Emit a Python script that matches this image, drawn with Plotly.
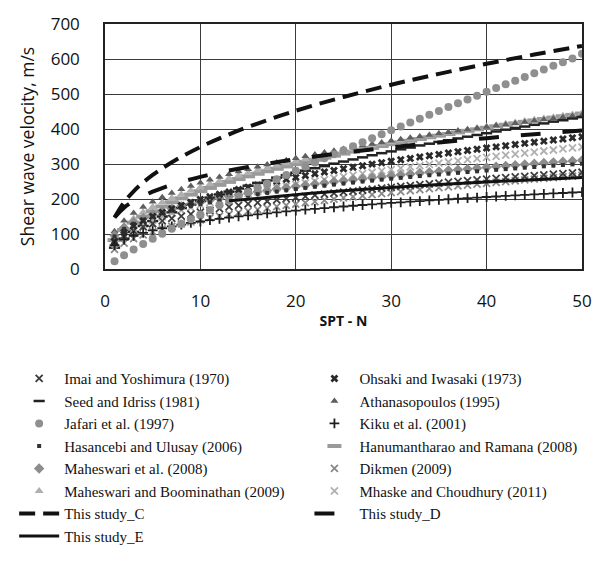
import plotly.graph_objects as go

# ---- data ----
N = list(range(1, 51))

imai = [76, 95.5, 109.2, 120.1, 129.3, 137.3, 144.4, 151.0, 156.9, 162.5, 167.7, 172.6, 177.2, 181.6, 185.8, 189.8, 193.6, 197.3, 200.8, 204.3,
        207.6, 210.8, 213.9, 216.9, 219.8, 222.7, 225.5, 228.2, 230.9, 233.5, 236.0, 238.5, 240.9, 243.3, 245.6, 248.0, 250.2, 252.4, 254.6, 256.7,
        258.8, 260.9, 262.9, 264.9, 266.9, 268.8, 270.8, 272.7, 274.5, 276.4]
ohsaki = [79, 104.2, 122.6, 137.5, 150.4, 161.8, 172.1, 181.5, 190.2, 198.4, 206.2, 213.5, 220.4, 227.0, 233.4, 239.5, 245.4, 251.0, 256.5, 261.8,
          267.0, 272.0, 276.9, 281.6, 286.3, 290.8, 295.2, 299.6, 303.8, 308.0, 312.0, 316.0, 319.9, 323.8, 327.5, 331.2, 334.9, 338.5, 342.0, 345.5,
          348.9, 352.3, 355.6, 358.9, 362.2, 365.3, 368.5, 371.6, 374.7, 377.8]
seed = [61, 87, 106, 123, 137, 150, 162, 174, 184, 194, 204, 213, 221, 230, 238, 246, 253, 261, 268, 275,
        281, 288, 294, 301, 307, 313, 319, 325, 331, 336, 342, 347, 353, 358, 363, 368, 373, 378, 383, 388,
        393, 398, 403, 407, 412, 416, 421, 425, 430, 434]
athanasopoulos = [107.6, 138.1, 159.8, 177.2, 192.1, 205.1, 216.8, 227.5, 237.3, 246.5, 255.1, 263.2, 270.9, 278.3, 285.2, 291.9, 298.4, 304.6, 310.6, 316.4,
                  322.0, 327.4, 332.7, 337.8, 342.8, 347.7, 352.5, 357.1, 361.6, 366.1, 370.4, 374.7, 378.8, 382.9, 387.0, 390.9, 394.8, 398.6, 402.3, 406.0,
                  409.7, 413.2, 416.7, 420.2, 423.6, 427.0, 430.3, 433.6, 436.8, 440.0]
jafari = [22, 39.6, 56.0, 71.5, 86.4, 100.9, 115.0, 128.8, 142.4, 155.7, 168.9, 181.9, 194.7, 207.3, 219.8, 232.2, 244.5, 256.7, 268.8, 280.8,
          292.6, 304.5, 316.2, 327.8, 339.4, 350.9, 362.3, 373.7, 385.0, 396.2, 407.4, 418.5, 429.6, 440.7, 451.6, 462.6, 473.6, 484.5, 495.3, 506.1,
          516.8, 527.5, 538.2, 548.8, 559.3, 569.9, 580.4, 590.9, 601.3, 615.0]
kiku = [68, 83.7, 94.5, 103.1, 110.2, 116.4, 121.9, 126.9, 131.5, 135.7, 139.6, 143.3, 146.8, 150.1, 153.2, 156.2, 159.1, 161.8, 164.5, 167.0,
        169.5, 171.9, 174.2, 176.4, 178.6, 180.7, 182.8, 184.8, 186.7, 188.7, 190.5, 192.3, 194.1, 195.9, 197.6, 199.3, 200.9, 202.5, 204.1, 205.7,
        207.2, 208.7, 210.2, 211.6, 213.0, 214.5, 215.8, 217.2, 218.5, 219.9]
hasancebi = [93, 114.5, 129.3, 141.0, 150.7, 159.2, 166.7, 173.5, 179.8, 185.6, 190.9, 196.0, 200.8, 205.3, 209.6, 213.7, 217.6, 221.3, 225.0, 228.4,
             231.8, 235.1, 238.2, 241.3, 244.3, 247.1, 250.0, 252.7, 255.4, 258.0, 260.5, 263.0, 265.5, 267.9, 270.2, 272.5, 274.8, 277.0, 279.1, 281.3,
             283.4, 285.4, 287.4, 289.4, 291.4, 293.3, 295.2, 297.1, 298.9, 300.7]
hanumantharao = [82.6, 111.3, 132.5, 149.9, 165.0, 178.5, 190.7, 202.0, 212.5, 222.3, 231.6, 240.4, 248.9, 256.9, 264.7, 272.1, 279.3, 286.3, 293.0, 299.5,
                 305.9, 312.0, 318.1, 323.9, 329.7, 335.3, 340.8, 346.1, 351.4, 356.6, 361.6, 366.6, 371.5, 376.3, 381.0, 385.6, 390.2, 394.7, 399.1, 403.5,
                 407.8, 412.1, 416.2, 420.4, 424.5, 428.5, 432.5, 436.4, 440.3, 444.2]
maheswari08 = [96, 118.2, 133.5, 145.5, 155.6, 164.3, 172.1, 179.1, 185.6, 191.5, 197.1, 202.3, 207.2, 211.9, 216.3, 220.6, 224.6, 228.5, 232.2, 235.8,
               239.3, 242.6, 245.9, 249.1, 252.2, 255.1, 258.0, 260.9, 263.6, 266.3, 269.0, 271.5, 274.1, 276.5, 278.9, 281.3, 283.6, 285.9, 288.1, 290.3,
               292.5, 294.6, 296.7, 298.8, 300.8, 302.8, 304.7, 306.7, 308.5, 310.4]
dikmen = [56, 73.9, 86.9, 97.5, 106.6, 114.7, 122.0, 128.7, 134.9, 140.7, 146.1, 151.3, 156.2, 160.9, 165.4, 169.8, 173.9, 178.0, 181.8, 185.6,
          189.3, 192.8, 196.3, 199.6, 202.9, 206.1, 209.3, 212.4, 215.4, 218.3, 221.2, 224.0, 226.8, 229.5, 232.2, 234.8, 237.4, 239.9, 242.4, 244.9,
          247.3, 249.7, 252.1, 254.4, 256.7, 259.0, 261.2, 263.4, 265.6, 267.8]
maheswari_boom = [93, 122.7, 144.3, 161.9, 177.0, 190.4, 202.5, 213.7, 224.0, 233.6, 242.7, 251.3, 259.5, 267.3, 274.7, 281.9, 288.8, 295.5, 302.0, 308.2,
                  314.3, 320.2, 326.0, 331.6, 337.0, 342.3, 347.5, 352.7, 357.6, 362.5, 367.3, 372.0, 376.6, 381.1, 385.5, 389.9, 394.2, 398.4, 402.6, 406.7,
                  410.7, 414.7, 418.7, 422.5, 426.3, 430.1, 433.8, 437.5, 441.1, 444.7]
mhaske = [73, 96.2, 113.1, 126.9, 138.8, 149.3, 158.8, 167.5, 175.6, 183.1, 190.2, 197.0, 203.4, 209.5, 215.4, 221.0, 226.4, 231.7, 236.7, 241.6,
          246.4, 251.0, 255.5, 259.9, 264.2, 268.3, 272.4, 276.4, 280.3, 284.2, 287.9, 291.6, 295.2, 298.8, 302.2, 305.7, 309.0, 312.3, 315.6, 318.8,
          322.0, 325.1, 328.2, 331.2, 334.2, 337.1, 340.0, 343.0, 345.8, 348.6]

N_line = [1, 2, 3, 4, 5, 6, 8, 10, 12, 15, 20, 25, 30, 35, 40, 45, 50]
study_c = [147, 190.6, 221.9, 247.2, 268.8, 287.8, 320.6, 348.6, 373.2, 405.8, 452.1, 491.5, 526.3, 557.6, 586.2, 612.7, 637.4]
study_d = [147, 175.2, 194.1, 208.8, 220.9, 231.3, 248.8, 263.2, 275.7, 291.6, 313.7, 331.9, 347.6, 361.4, 373.8, 385.1, 395.5]
N_e = [13, 15, 20, 25, 30, 35, 40, 45, 50]
study_e = [195.0, 199.2, 212.5, 223.5, 232.9, 241.2, 248.6, 255.3, 261.4]

fig = go.Figure()

def mk(name, y, symbol, color, size, lw, legend, rank):
    fig.add_trace(go.Scatter(
        x=N, y=y, mode="markers", name=name, legend=legend, legendrank=rank,
        marker=dict(symbol=symbol, color=color, size=size,
                    line=dict(width=lw, color=color))))

# drawing order (back to front)
mk("Hanumantharao and Ramana (2008)", hanumantharao, "line-ew", "#9a9a9a", 10, 4, "legend2", 4)
mk("Maheswari and Boominathan (2009)", maheswari_boom, "triangle-up", "#b0b0b0", 8, 0, "legend", 6)
mk("Athanasopoulos (1995)", athanasopoulos, "triangle-up", "#5e5e5e", 7, 0, "legend2", 2)
mk("Seed and Idriss (1981)", seed, "line-ew", "#222222", 8, 2.5, "legend", 2)
mk("Mhaske and Choudhury (2011)", mhaske, "x-thin", "#b0b0b0", 7, 1.8, "legend2", 6)
mk("Maheswari et al. (2008)", maheswari08, "diamond", "#8c8c8c", 8, 0, "legend", 5)
mk("Hasancebi and Ulusay (2006)", hasancebi, "square", "#333333", 4, 0, "legend", 4)
mk("Dikmen (2009)", dikmen, "x-thin", "#8a8a8a", 7, 1.8, "legend2", 5)
mk("Imai and Yoshimura (1970)", imai, "x-thin", "#3c3c3c", 7, 1.8, "legend", 1)
mk("Ohsaki and Iwasaki (1973)", ohsaki, "x", "#2a2a2a", 7, 0, "legend2", 1)
mk("Kiku et al. (2001)", kiku, "cross-thin", "#1e1e1e", 7, 1.8, "legend2", 3)
mk("Jafari et al. (1997)", jafari, "circle", "#8f8f8f", 8, 0, "legend", 3)

fig.add_trace(go.Scatter(x=N_e, y=study_e, mode="lines", name="This study_E", legend="legend", legendrank=8,
                         line=dict(color="#111111", width=3, shape="spline")))
fig.add_trace(go.Scatter(x=N_line, y=study_d, mode="lines", name="This study_D", legend="legend2", legendrank=7,
                         line=dict(color="#111111", width=4, dash="20px,22px", shape="spline")))
fig.add_trace(go.Scatter(x=N_line, y=study_c, mode="lines", name="This study_C", legend="legend", legendrank=7,
                         line=dict(color="#111111", width=4, dash="16px,8px", shape="spline")))

axis_font = dict(family="Open Sans", size=17, color="#111111")
legend_font = dict(family="Liberation Serif", size=15, color="#111111")

PLOT_L, PLOT_W, PLOT_B, PLOT_H = 105, 483, 271, 255
legend_top = 368

fig.update_layout(
    width=604, height=564,
    margin=dict(l=105, r=16, t=16, b=293),
    paper_bgcolor="white", plot_bgcolor="white",
    xaxis=dict(range=[0, 50], dtick=10, showgrid=True, gridcolor="#3a3a3a", gridwidth=1,
               showline=True, mirror=True, linecolor="#222222", linewidth=1.5,
               zeroline=False, tickfont=axis_font, ticks="", ticklabelstandoff=16,
               title=dict(text="SPT - N", font=dict(family="Open Sans", size=14, color="#111111", weight="bold"),
                          standoff=5)),
    yaxis=dict(range=[0, 700], dtick=100, showgrid=True, gridcolor="#3a3a3a", gridwidth=1,
               showline=True, mirror=True, linecolor="#222222", linewidth=1.5,
               zeroline=False, tickfont=axis_font, ticks="", ticklabelstandoff=20,
               title=dict(text="Shear wave velocity, m/s", font=dict(family="Open Sans", size=17.5, color="#111111"),
                          standoff=12)),
    legend=dict(xref="paper", yref="paper", x=(13 - PLOT_L) / PLOT_W, y=(PLOT_B - legend_top) / PLOT_H,
                xanchor="left", yanchor="top", font=legend_font, bgcolor="rgba(0,0,0,0)",
                itemwidth=40, tracegroupgap=0),
    legend2=dict(xref="paper", yref="paper", x=(312 - PLOT_L) / PLOT_W, y=(PLOT_B - legend_top) / PLOT_H,
                 xanchor="left", yanchor="top", font=legend_font, bgcolor="rgba(0,0,0,0)",
                 itemwidth=40, tracegroupgap=0),
)

fig.write_html("out.html")
